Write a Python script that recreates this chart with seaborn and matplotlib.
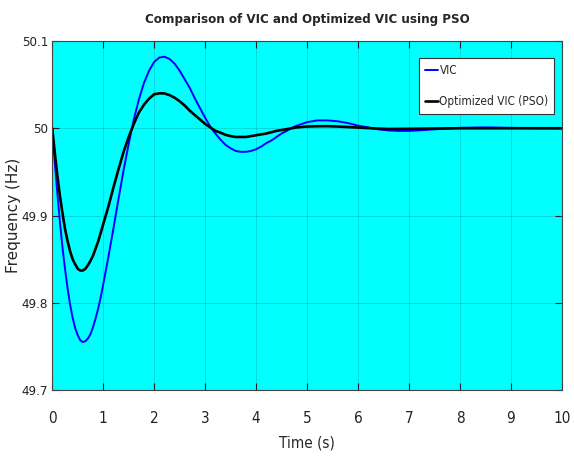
import pandas as pd
import matplotlib
matplotlib.use("Agg")
import matplotlib.pyplot as plt
import seaborn as sns

# time axis (s), finer where the response swings
time = [0.0, 0.05, 0.1, 0.15, 0.2, 0.25, 0.3, 0.35, 0.4, 0.45, 0.5, 0.55,
        0.6, 0.65, 0.7, 0.75, 0.8, 0.85, 0.9, 0.95,
        1.0, 1.1, 1.2, 1.3, 1.4, 1.5, 1.6, 1.7, 1.8, 1.9,
        2.0, 2.1, 2.2, 2.3, 2.4, 2.5, 2.6, 2.7, 2.8, 2.9,
        3.0, 3.1, 3.2, 3.3, 3.4, 3.5, 3.6, 3.7, 3.8, 3.9,
        4.0, 4.1, 4.2, 4.3, 4.4, 4.5, 4.6, 4.7, 4.8, 4.9,
        5.0, 5.2, 5.4, 5.6, 5.8, 6.0, 6.2, 6.4, 6.6, 6.8,
        7.0, 7.2, 7.5, 8.0, 8.5, 9.0, 9.5, 10.0]

vic = [50.000, 49.961, 49.926, 49.893, 49.864, 49.839, 49.817, 49.798, 49.783, 49.771, 49.763, 49.757,
       49.755, 49.756, 49.759, 49.764, 49.772, 49.782, 49.793, 49.806,
       49.821, 49.852, 49.885, 49.919, 49.952, 49.982, 50.010, 50.033, 50.052, 50.066,
       50.076, 50.081, 50.082, 50.0795, 50.074, 50.066, 50.056, 50.046, 50.034, 50.023,
       50.012, 50.002, 49.994, 49.987, 49.981, 49.977, 49.974, 49.973, 49.973, 49.974,
       49.976, 49.979, 49.983, 49.986, 49.990, 49.994, 49.997, 50.0005, 50.003, 50.005,
       50.007, 50.009, 50.009, 50.008, 50.006, 50.003, 50.001, 49.9987, 49.9975, 49.997,
       49.997, 49.9976, 49.9988, 50.0005, 50.001, 50.0005, 50.000, 50.000]

vic_pso = [50.000, 49.972, 49.946, 49.923, 49.903, 49.885, 49.871, 49.859, 49.850, 49.844, 49.839, 49.837,
           49.837, 49.839, 49.843, 49.848, 49.854, 49.862, 49.870, 49.880,
           49.890, 49.910, 49.932, 49.953, 49.973, 49.990, 50.005, 50.018, 50.027, 50.034,
           50.039, 50.040, 50.040, 50.038, 50.035, 50.031, 50.026, 50.020, 50.015, 50.010,
           50.005, 50.001, 49.997, 49.995, 49.9925, 49.991, 49.990, 49.990, 49.990, 49.991,
           49.992, 49.993, 49.994, 49.9955, 49.997, 49.998, 49.999, 50.000, 50.001, 50.0015,
           50.002, 50.0023, 50.0024, 50.002, 50.0014, 50.0008, 50.0002, 49.9996, 49.9992, 49.9993,
           49.9994, 49.9995, 49.9997, 50.000, 50.000, 50.000, 50.000, 50.000]

xticks = [0, 1, 2, 3, 4, 5, 6, 7, 8, 9, 10]
yticks = [49.7, 49.8, 49.9, 50.0, 50.1]
ytick_labels = ["49.7", "49.8", "49.9", "50", "50.1"]

df = pd.DataFrame({
    "Time": time * 2,
    "Frequency": vic + vic_pso,
    "Controller": ["VIC"] * len(time) + ["Optimized VIC (PSO)"] * len(time),
})

sns.set_style("ticks")
plt.rcParams['font.family'] = ['DejaVu Sans']
plt.rcParams['font.stretch'] = 'condensed'

fig = plt.figure(figsize=(5.74, 4.66), dpi=100)
ax = fig.add_axes([0.091, 0.163, 0.888, 0.749])
ax.set_facecolor("#00ffff")

sns.lineplot(data=df, x="Time", y="Frequency", hue="Controller",
             palette={"VIC": "#0000ff", "Optimized VIC (PSO)": "#000000"},
             ax=ax, legend=False)
ax.lines[0].set_linewidth(1.4)
ax.lines[1].set_linewidth(1.9)

ax.set_xlim(0, 10)
ax.set_ylim(49.7, 50.1)
ax.set_xticks(xticks)
ax.set_yticks(yticks)
ax.set_yticklabels(ytick_labels)
ax.grid(True, color="#00b8b8", linewidth=0.6, alpha=0.6)
ax.tick_params(direction="in", top=True, right=True, length=5, width=0.8,
               labelsize=11, colors="#222222")
ax.tick_params(axis="x", pad=15)
ax.tick_params(axis="y", pad=3, labelsize=9.5)
for s in ax.spines.values():
    s.set_color("#444444")
    s.set_linewidth(0.8)

ax.set_title("Comparison of VIC and Optimized VIC using PSO",
             fontsize=9.5, fontweight="bold", pad=13)
ax.set_xlabel("Time (s)", fontsize=11, labelpad=7)
ax.set_ylabel("Frequency (Hz)", fontsize=11, fontstretch="normal")
ax.yaxis.set_label_coords(-0.062, 0.5)

leg = ax.legend(handles=[ax.lines[0], ax.lines[1]], labels=["VIC", "Optimized VIC (PSO)"],
                loc="upper right", bbox_to_anchor=(0.99, 0.957), fontsize=8.5,
                handlelength=1.1, handletextpad=0.15, borderaxespad=0.2, borderpad=0.5,
                fancybox=False, framealpha=1, edgecolor="#333333", labelspacing=1.5)
leg.get_frame().set_linewidth(0.8)

fig.savefig("out.png", dpi=100)
